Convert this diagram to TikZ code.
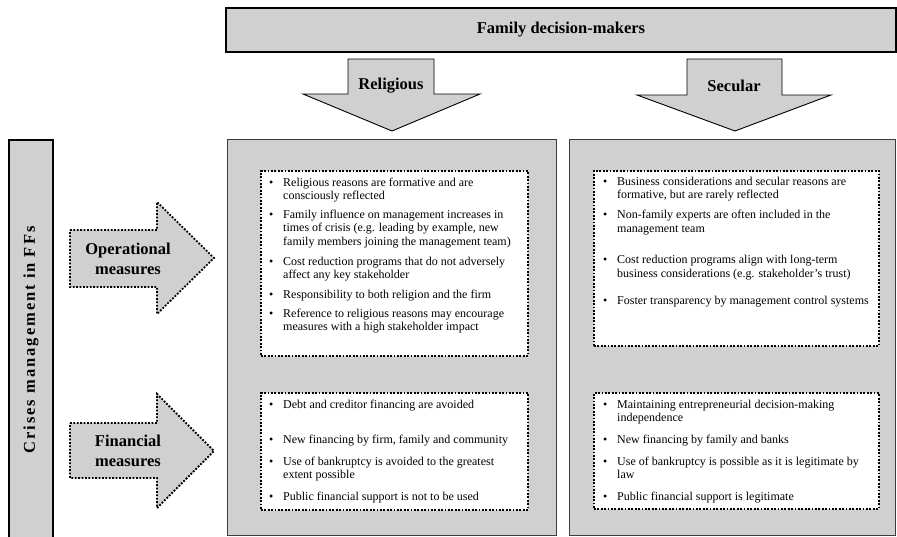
\documentclass[tikz,border=0pt]{standalone}
\usepackage{fontspec}
\setmainfont{Liberation Serif}
\usetikzlibrary{positioning}
\definecolor{panelgray}{RGB}{208,208,208}
\definecolor{framegray}{RGB}{60,60,60}
\newcommand{\itm}[1]{\makebox[14pt][l]{\textbullet}\parbox[t]{275pt}{#1}}

\begin{document}
\begin{tikzpicture}[x=1pt,y=-1pt,
  panel/.style={draw=framegray,line width=1.3pt,fill=panelgray,anchor=north west,inner sep=0pt},
  bar/.style={draw=black,line width=2pt,fill=panelgray,anchor=north west,inner sep=0pt},
  listbox/.style={draw=black,fill=white,line width=1.8pt,dash pattern=on 1.8pt off 1.6pt,anchor=north west,inner sep=0pt},
  downarr/.style={draw=black,line width=0.9pt,fill=panelgray,line join=miter},
  sidearr/.style={draw=black,line width=1.8pt,dash pattern=on 1.8pt off 1.6pt,fill=panelgray},
  head/.style={font=\fontsize{16.5}{18}\selectfont\bfseries},
  sidelbl/.style={font=\fontsize{16.5}{20}\selectfont\bfseries,align=center},
  pt/.style={anchor=base west,inner sep=0pt,font=\fontsize{12}{13.8}\selectfont}]
\useasboundingbox (0,0) rectangle (897,536);

% frame of the figure
\node[bar,minimum width=670pt,minimum height=44pt] (family) at (225,7) {};
\node[head] (familylbl) at (family.center) {Family decision-makers};
\node[bar,minimum width=44pt,minimum height=405pt] (crisis) at (8,139) {};
\node[font=\fontsize{16.5}{18}\selectfont\bfseries\addfontfeature{LetterSpace=12},rotate=90] (crisislbl) at (31,340) {Crises management in FFs};
\node[panel,minimum width=329pt,minimum height=396pt] (relpanel) at (227,139) {};
\node[panel,minimum width=326pt,minimum height=396pt] (secpanel) at (569,139) {};

% down arrows
\draw[downarr] (348,59) -- (434,59) -- (434,94) -- (480,94) -- (392,131) -- (303,94) -- (348,94) -- cycle;
\node[head] (rellbl) at (391,86) {Religious};
\draw[downarr] (687,59) -- (782,59) -- (782,95) -- (831,95) -- (735,131) -- (637,95) -- (687,95) -- cycle;
\node[head] (seclbl) at (734,86) {Secular};

% side arrows
\draw[sidearr] (70,230) -- (157,230) -- (157,202) -- (214,258) -- (157,314) -- (157,287) -- (70,287) -- cycle;
\node[sidelbl] (oplbl) at (128,259) {Operational\\measures};
\draw[sidearr] (70,423) -- (157,423) -- (157,394) -- (214,451) -- (157,508) -- (157,478) -- (70,478) -- cycle;
\node[sidelbl] (finlbl) at (128,451) {Financial\\measures};

% dotted lists
\node[listbox,minimum width=267pt,minimum height=185pt] (relop) at (260,170) {};
\node[listbox,minimum width=285pt,minimum height=175pt] (secop) at (593,170) {};
\node[listbox,minimum width=267pt,minimum height=117pt] (relfin) at (260,392) {};
\node[listbox,minimum width=285pt,minimum height=116pt] (secfin) at (593,392) {};

\node[pt] (relop1) at (269,186) {\itm{Religious reasons are formative and are\\consciously reflected}};
\node[pt] (relop2) at (269,218) {\itm{Family influence on management increases in\\times of crisis (e.g. leading by example, new\\family members joining the management team)}};
\node[pt] (relop3) at (269,265) {\itm{Cost reduction programs that do not adversely\\affect any key stakeholder}};
\node[pt] (relop4) at (269,298) {\itm{Responsibility to both religion and the firm}};
\node[pt] (relop5) at (269,317) {\itm{Reference to religious reasons may encourage\\measures with a high stakeholder impact}};

\node[pt] (secop1) at (603,185) {\itm{Business considerations and secular reasons are\\formative, but are rarely reflected}};
\node[pt] (secop2) at (603,218.5) {\itm{Non-family experts are often included in the\\management team}};
\node[pt] (secop3) at (603,263.5) {\itm{Cost reduction programs align with long-term\\business considerations (e.g. stakeholder’s trust)}};
\node[pt] (secop4) at (603,304) {\itm{Foster transparency by management control systems}};

\node[pt] (relfin1) at (269,408) {\itm{Debt and creditor financing are avoided}};
\node[pt] (relfin2) at (269,443.3) {\itm{New financing by firm, family and community}};
\node[pt] (relfin3) at (269,465) {\itm{Use of bankruptcy is avoided to the greatest\\extent possible}};
\node[pt] (relfin4) at (269,500) {\itm{Public financial support is not to be used}};

\node[pt] (secfin1) at (603,408) {\itm{Maintaining entrepreneurial decision-making\\independence}};
\node[pt] (secfin2) at (603,443.3) {\itm{New financing by family and banks}};
\node[pt] (secfin3) at (603,465) {\itm{Use of bankruptcy is possible as it is legitimate by\\law}};
\node[pt] (secfin4) at (603,500) {\itm{Public financial support is legitimate}};
\end{tikzpicture}
\end{document}
